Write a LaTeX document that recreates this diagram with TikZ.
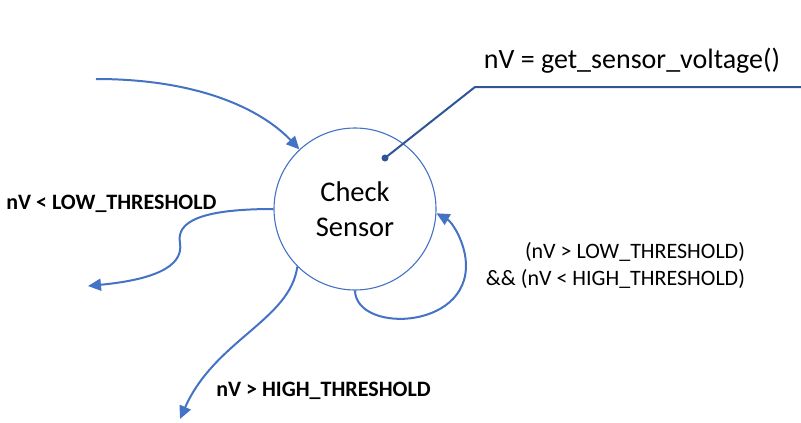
\documentclass[tikz,border=0pt]{standalone}
\usepackage{fontspec}
\setmainfont{Carlito}
\usetikzlibrary{arrows.meta}

\definecolor{lineblue}{HTML}{4472C4}
\definecolor{darkblue}{HTML}{2F5597}

\begin{document}
\begin{tikzpicture}[x=1pt, y=-1pt, line width=2pt, lineblue,
	flow/.style = {draw=lineblue, -{Triangle[length=13pt,width=12pt]}},
	state/.style = {draw=lineblue, line width=1.1pt, circle, minimum size=162pt, inner sep=0pt, align=center, text=black, font=\fontsize{28.5}{35}\selectfont},
	cond/.style = {text=black, font=\fontsize{22}{27}\selectfont},
	bcond/.style = {text=black, font=\fontsize{22}{27}\selectfont\bfseries}]
\useasboundingbox (0,0) rectangle (801,423);
\node[state] (check) at (355,209) {Check\\Sensor};
% free ends
\coordinate (start) at (96,79);
\coordinate (low) at (88,286);
\coordinate (high) at (180,419);
% pin to the circle
\coordinate (pin) at (385,158);
\coordinate (bend) at (475,87);
\coordinate (pinend) at (801,87);
\draw[darkblue, line width=2pt] (pin) -- (bend) -- (pinend);
\fill[darkblue] (pin) circle (3.5pt);
\node[text=black, font=\fontsize{28}{34}\selectfont, anchor=base] (call) at (632,68) {nV = get\_sensor\_voltage()};
% transitions
\draw[flow] (start) .. controls (200,79) and (262,110) .. (check.133);
\draw[flow] (check.180) .. controls (200,209) and (176,222) .. (180,243)
	.. controls (184,268) and (150,280) .. (low);
\draw[flow] (check.225) .. controls (290,320) and (215,340) .. (high);
\draw[flow] (check.270) .. controls (356,335) and (478,330) .. (465,255)
	.. controls (462,238) and (452,222) .. (check.-3);
% labels
\node[bcond, anchor=base west] (lowlbl) at (2,209) {nV < LOW\_THRESHOLD};
\node[bcond, anchor=base west] (highlbl) at (212,396) {nV > HIGH\_THRESHOLD};
\node[cond, align=right, anchor=base east, inner sep=0pt] (stay) at (746,285) {(nV > LOW\_THRESHOLD)\\\&\& (nV < HIGH\_THRESHOLD)};
\end{tikzpicture}
\end{document}
